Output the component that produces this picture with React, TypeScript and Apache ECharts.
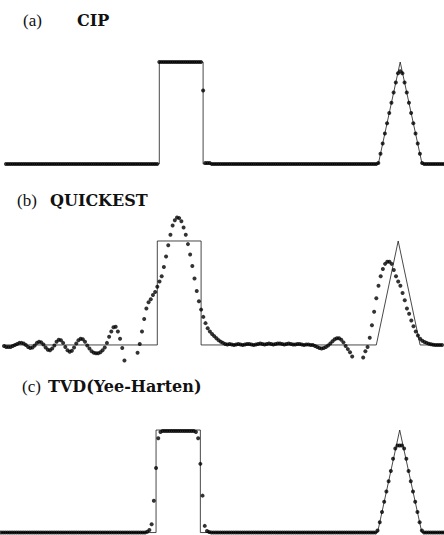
import React, { useEffect, useRef } from "react";
import * as echarts from "echarts";

// Grid cell positions (x) shared by all three panels
const cellCount = 201;

// Exact solution (square wave + triangle), drawn as a thin line
const exactX = [0, 70, 70, 90, 90, 170, 180, 190, 200];
const exactY = [0, 0, 1, 1, 0, 0, 1, 0, 0];

// (a) CIP numerical solution
const cipValues = [
  0, 0, 0, 0, 0, 0, 0, 0, 0, 0,
  0, 0, 0, 0, 0, 0, 0, 0, 0, 0,
  0, 0, 0, 0, 0, 0, 0, 0, 0, 0,
  0, 0, 0, 0, 0, 0, 0, 0, 0, 0,
  0, 0, 0, 0, 0, 0, 0, 0, 0, 0,
  0, 0, 0, 0, 0, 0, 0, 0, 0, 0,
  0, 0, 0, 0, 0, 0, 0, 0, 0, 0,
  1, 1, 1, 1, 1, 1, 1, 1, 1, 1,
  1, 1, 1, 1, 1, 1, 1, 1, 1, 1,
  0.72, 0.01, 0.01, 0.01, 0, 0, 0, 0, 0, 0,
  0, 0, 0, 0, 0, 0, 0, 0, 0, 0,
  0, 0, 0, 0, 0, 0, 0, 0, 0, 0,
  0, 0, 0, 0, 0, 0, 0, 0, 0, 0,
  0, 0, 0, 0, 0, 0, 0, 0, 0, 0,
  0, 0, 0, 0, 0, 0, 0, 0, 0, 0,
  0, 0, 0, 0, 0, 0, 0, 0, 0, 0,
  0, 0, 0, 0, 0, 0, 0, 0, 0, 0,
  0.01, 0.1, 0.2, 0.3, 0.4, 0.5, 0.6, 0.7, 0.8, 0.89,
  0.91, 0.89, 0.8, 0.7, 0.6, 0.5, 0.4, 0.3, 0.2, 0.1,
  0.01, 0, 0, 0, 0, 0, 0, 0, 0, 0,
  0,
];

// (b) QUICKEST numerical solution
const quickestValues = [
  -0.01, -0.02, -0.02, -0.02, -0.01, 0, 0.01, 0.02, 0.02, 0.015,
  0, -0.02, -0.03, -0.025, -0.005, 0.02, 0.03, 0.025, 0.005, -0.025,
  -0.045, -0.05, -0.035, -0.005, 0.03, 0.05, 0.045, 0.02, -0.02, -0.05,
  -0.065, -0.055, -0.025, 0.015, 0.045, 0.06, 0.055, 0.03, -0.005, -0.035,
  -0.06, -0.075, -0.08, -0.08, -0.07, -0.05, -0.025, 0.02, 0.08, 0.13,
  0.17, 0.175, 0.13, 0.06, -0.03, -0.15, -0.22, -0.26, -0.26, -0.22,
  -0.18, -0.075, 0.01, 0.13, 0.25, 0.35, 0.41, 0.44, 0.48, 0.51,
  0.56, 0.61, 0.66, 0.75, 0.85, 0.96, 1.06, 1.15, 1.2, 1.225,
  1.22, 1.19, 1.13, 1.06, 0.97, 0.87, 0.76, 0.64, 0.52, 0.42,
  0.34, 0.27, 0.21, 0.16, 0.13, 0.105, 0.085, 0.065, 0.045, 0.03,
  0.02, 0.01, 0.005, 0.01, 0.005, 0, 0.005, 0.01, 0.005, 0,
  0.005, 0.01, 0.01, 0.005, 0, 0.005, 0.01, 0.015, 0.01, 0.005,
  0.01, 0.015, 0.01, 0.005, 0.01, 0.015, 0.015, 0.01, 0.005, 0.01,
  0.015, 0.01, 0.005, 0.005, 0.01, 0.01, 0.005, 0, 0.005, 0.005,
  0, 0, -0.01, -0.02, -0.03, -0.035, -0.03, -0.02, -0.005, 0.015,
  0.035, 0.055, 0.065, 0.065, 0.05, 0.025, -0.01, -0.04, -0.07, -0.11,
  -0.17, -0.21, -0.22, -0.19, -0.12, -0.06, -0.02, 0.07, 0.19, 0.32,
  0.45, 0.57, 0.66, 0.73, 0.78, 0.8, 0.8, 0.78, 0.72, 0.66,
  0.61, 0.57, 0.5, 0.43, 0.35, 0.3, 0.235, 0.18, 0.13, 0.09,
  0.06, 0.04, 0.028, 0.02, 0.012, 0.007, 0.003, 0, 0, 0,
  0,
];

// (c) TVD (Yee-Harten) numerical solution
const tvdValues = [
  0, 0, 0, 0, 0, 0, 0, 0, 0, 0,
  0, 0, 0, 0, 0, 0, 0, 0, 0, 0,
  0, 0, 0, 0, 0, 0, 0, 0, 0, 0,
  0, 0, 0, 0, 0, 0, 0, 0, 0, 0,
  0, 0, 0, 0, 0, 0, 0, 0, 0, 0,
  0, 0, 0, 0, 0, 0, 0, 0, 0, 0,
  0, 0, 0, 0, 0, 0, 0.008, 0.025, 0.08, 0.31,
  0.63, 0.92, 0.98, 0.99, 0.99, 0.99, 0.99, 0.99, 0.99, 0.99,
  0.99, 0.99, 0.99, 0.99, 0.99, 0.99, 0.99, 0.99, 0.98, 0.92,
  0.67, 0.36, 0.065, 0.015, 0.005, 0, 0, 0, 0, 0,
  0, 0, 0, 0, 0, 0, 0, 0, 0, 0,
  0, 0, 0, 0, 0, 0, 0, 0, 0, 0,
  0, 0, 0, 0, 0, 0, 0, 0, 0, 0,
  0, 0, 0, 0, 0, 0, 0, 0, 0, 0,
  0, 0, 0, 0, 0, 0, 0, 0, 0, 0,
  0, 0, 0, 0, 0, 0, 0, 0, 0, 0,
  0, 0, 0, 0, 0, 0, 0, 0, 0, 0,
  0.02, 0.1, 0.2, 0.3, 0.4, 0.5, 0.6, 0.72, 0.82, 0.85,
  0.85, 0.85, 0.82, 0.72, 0.6, 0.5, 0.4, 0.3, 0.2, 0.1,
  0.02, 0, 0, 0, 0, 0, 0, 0, 0, 0,
  0,
];

const panelLabels = ["(a)", "(b)", "(c)"];
const panelTitles = ["CIP", "QUICKEST", "TVD(Yee-Harten)"];

const layout = [
  { left: 6, width: 440, top: 36.5, height: 137.7, yMin: -0.1, yMax: 1.25, labelX: 23, titleX: 77, titleY: 20.5 },
  { left: 4, width: 438, top: 209.8, height: 151.8, yMin: -0.16, yMax: 1.3, labelX: 17, titleX: 50, titleY: 200.5 },
  { left: 1, width: 443, top: 404.4, height: 130.2, yMin: -0.02, yMax: 1.25, labelX: 22, titleX: 48, titleY: 386 },
];

export default function App() {
  const ref = useRef<HTMLDivElement>(null);

  useEffect(() => {
    if (!ref.current) return;
    const chart = echarts.init(ref.current, undefined, { renderer: "svg" });
    const valueSets = [cipValues, quickestValues, tvdValues];
    const exactData = exactX.map((x, k) => [x, exactY[k]]);

    const grids = layout.map((l) => ({
      left: l.left,
      width: l.width,
      top: l.top,
      height: l.height,
      show: false,
      containLabel: false,
    }));
    const xAxes = layout.map((_, k) => ({
      type: "value",
      gridIndex: k,
      min: 0,
      max: 200,
      show: false,
      splitLine: { show: false },
    }));
    const yAxes = layout.map((l, k) => ({
      type: "value",
      gridIndex: k,
      min: l.yMin,
      max: l.yMax,
      show: false,
      splitLine: { show: false },
    }));
    const series: any[] = [];
    valueSets.forEach((vals, k) => {
      series.push({
        type: "line",
        xAxisIndex: k,
        yAxisIndex: k,
        data: exactData,
        showSymbol: false,
        symbol: "none",
        lineStyle: { color: "#1a1a1a", width: 0.8 },
        silent: true,
        z: 2,
      });
      series.push({
        type: "scatter",
        xAxisIndex: k,
        yAxisIndex: k,
        data: vals.slice(0, cellCount).map((v, i) => [i, v]),
        symbol: "circle",
        symbolSize: 4,
        itemStyle: { color: "#000" },
        clip: true,
        silent: true,
        z: 3,
      });
    });

    const graphic: any[] = [];
    layout.forEach((l, k) => {
      graphic.push({
        type: "text",
        x: l.labelX,
        y: l.titleY,
        style: {
          text: panelLabels[k],
          fontFamily: "Liberation Serif",
          fontSize: 17,
          fontWeight: "normal",
          fill: "#111",
          verticalAlign: "middle",
        },
      });
      graphic.push({
        type: "text",
        x: l.titleX,
        y: l.titleY,
        style: {
          text: panelTitles[k],
          fontFamily: "DejaVu Serif",
          fontSize: 16,
          fontWeight: "bold",
          fill: "#111",
          verticalAlign: "middle",
        },
      });
    });

    chart.setOption({
      animation: false,
      backgroundColor: "#ffffff",
      grid: grids,
      xAxis: xAxes,
      yAxis: yAxes,
      series,
      graphic,
    });
    return () => chart.dispose();
  }, []);

  return (
    <div
      ref={ref}
      style={{ position: "absolute", left: 0, top: 0, width: 444, height: 535, background: "#fff" }}
    />
  );
}
